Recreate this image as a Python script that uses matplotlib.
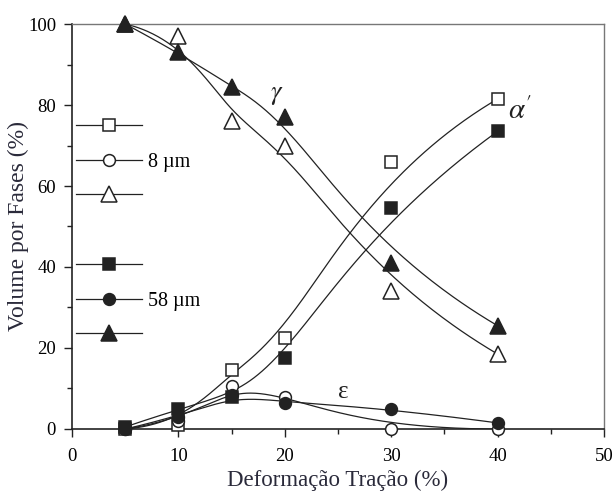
import numpy as np
import matplotlib
matplotlib.use('Agg')
import matplotlib.pyplot as plt
from matplotlib.lines import Line2D

plt.rcParams['font.family'] = ['Liberation Serif', 'DejaVu Serif']
plt.rcParams['mathtext.fontset'] = 'stix'

# deformation (%)
strain = [5, 10, 15, 20, 30, 40]

# phase volume (%) for grain size 8 um (open) and 58 um (filled)
alpha_8 = [0.0, 1.0, 14.5, 22.5, 66.0, 81.5]
alpha_58 = [0.5, 5.0, 8.0, 17.5, 54.5, 73.5]
eps_8 = [0.0, 2.0, 10.5, 8.0, 0.0, 0.0]
eps_58 = [0.0, 3.0, 8.5, 6.5, 5.0, 1.5]
gamma_8 = [100.0, 97.0, 76.0, 70.0, 34.0, 18.5]
gamma_58 = [100.0, 93.0, 84.5, 77.0, 41.0, 25.5]

ink = '#222222'
label_col = '#2a2a3a'


def bspline(x, y, deg=3, n=300):
    # clamped uniform B-spline using the data as control points (Origin style)
    pts = np.column_stack([x, y]).astype(float)
    m = len(pts)
    inner = np.linspace(0, 1, m - deg + 1)
    knots = np.concatenate([np.zeros(deg), inner, np.ones(deg)])
    t = np.linspace(0, 1, n)
    t[-1] -= 1e-10
    N = np.zeros((n, len(knots) - 1))
    for i in range(len(knots) - 1):
        N[:, i] = (t >= knots[i]) & (t < knots[i + 1])
    for k in range(1, deg + 1):
        Nn = np.zeros((n, len(knots) - 1 - k))
        for i in range(len(knots) - 1 - k):
            a = knots[i + k] - knots[i]
            b = knots[i + k + 1] - knots[i + 1]
            left = (t - knots[i]) / a * N[:, i] if a > 0 else 0
            right = (knots[i + k + 1] - t) / b * N[:, i + 1] if b > 0 else 0
            Nn[:, i] = left + right
        N = Nn
    curve = N @ pts
    return curve[:, 0], curve[:, 1]


fig = plt.figure(figsize=(6.14, 4.91), dpi=100)
ax = fig.add_axes([0.1173, 0.1263, 0.8664, 0.8248])

series = [
    (alpha_8, 's', 'white', 8),
    (alpha_58, 's', ink, 8),
    (eps_8, 'o', 'white', 8.5),
    (eps_58, 'o', ink, 8.5),
    (gamma_8, '^', 'white', 11),
    (gamma_58, '^', ink, 11),
]
for vals, mk, fc, ms in series:
    cx, cy = bspline(strain, vals)
    ax.plot(cx, cy, color=ink, lw=0.9, zorder=2)
    ax.plot(strain, vals, ls='none', marker=mk, mfc=fc, mec=ink, mew=1.1,
            ms=ms, clip_on=False, zorder=3)

ax.text(19.2, 82.2, r'$\gamma$', fontsize=19, color=ink, ha='center', va='center')
ax.text(41.0, 78.5, r"$\alpha'$", fontsize=21, color=ink, ha='left', va='center')
ax.text(25.5, 9.2, '\u03b5', fontsize=18, color=ink, ha='center', va='center')

def handles(fc):
    return [Line2D([], [], color=ink, lw=0.9, marker=m, mfc=fc, mec=ink,
                   mew=1.1, ms=s) for m, s in (('s', 8), ('o', 8.5), ('^', 11))]

leg_kw = dict(frameon=False, fontsize=14.5, handlelength=3.3, handletextpad=0.25,
              labelspacing=0.75, borderpad=0, borderaxespad=0, loc='center left')
leg1 = ax.legend(handles(fc='white'), ['', '8 \u00b5m', ''],
                 bbox_to_anchor=(0.0075, 0.659), **leg_kw)
ax.add_artist(leg1)
ax.legend(handles(fc=ink), ['', '58 \u00b5m', ''],
          bbox_to_anchor=(0.0075, 0.316), **leg_kw)

ax.set_xlim(0, 50)
ax.set_ylim(0, 100)
ax.set_xticks(np.arange(0, 51, 10))
ax.set_xticks(np.arange(5, 50, 10), minor=True)
ax.set_yticks(np.arange(0, 101, 20))
ax.set_yticks(np.arange(10, 100, 20), minor=True)
ax.tick_params(which='both', direction='out', top=False, right=False,
               labelsize=13.5, width=1.0, color=ink)
ax.tick_params(which='major', length=5.5)
ax.tick_params(which='minor', length=3.5)
ax.tick_params(axis='x', which='major', pad=8.5)
ax.tick_params(axis='y', which='major', pad=6)

for s in ('left', 'bottom'):
    ax.spines[s].set_linewidth(1.2)
    ax.spines[s].set_color(ink)
for s in ('top', 'right'):
    ax.spines[s].set_linewidth(1.0)
    ax.spines[s].set_color('#777777')

ax.set_xlabel('Deforma\u00e7\u00e3o Tra\u00e7\u00e3o (%)', fontsize=16.5,
              color=label_col, labelpad=3.5)
ax.set_ylabel('Volume por Fases (%)', fontsize=17, color=label_col)
ax.yaxis.set_label_coords(-0.08, 0.5)

fig.savefig('out.png', dpi=100, facecolor='white')
